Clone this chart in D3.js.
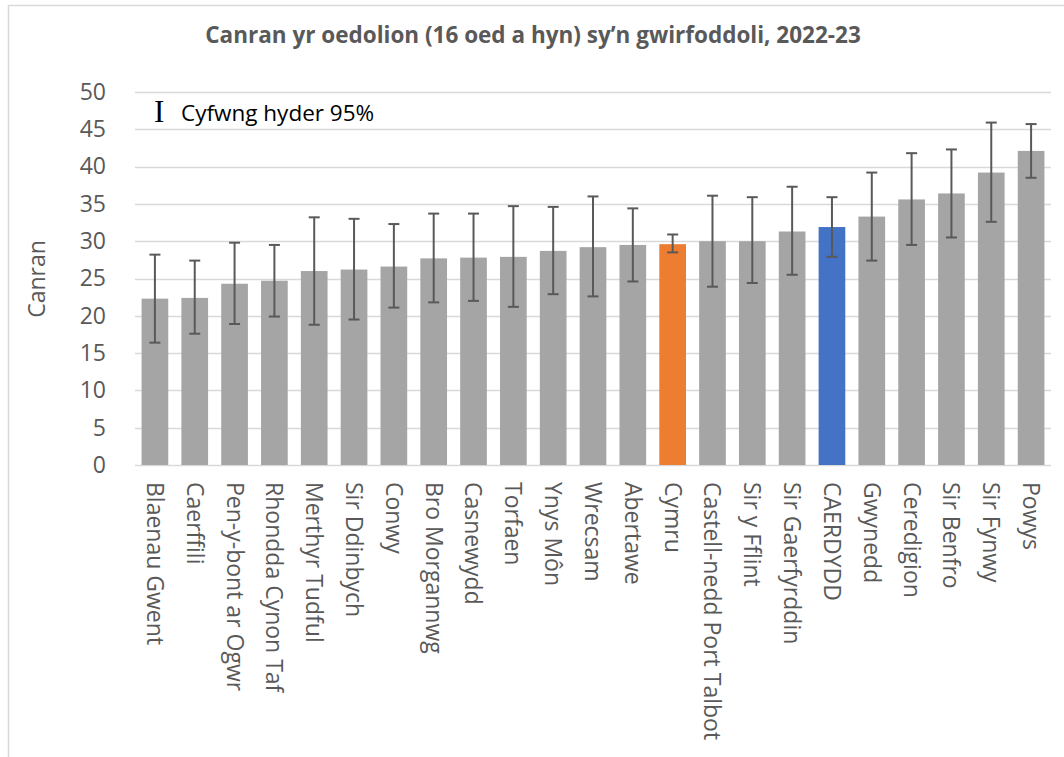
<!DOCTYPE html>
<html><head><meta charset="utf-8">
<script src="https://cdn.jsdelivr.net/npm/d3@7"></script>
<style>body{margin:0;background:#fff}svg{display:block}</style>
</head><body>
<svg id="chart" width="1064" height="757"></svg>
<script>
const categories = ["Blaenau Gwent","Caerffili","Pen-y-bont ar Ogwr","Rhondda Cynon Taf","Merthyr Tudful","Sir Ddinbych","Conwy","Bro Morgannwg","Casnewydd","Torfaen","Ynys Môn","Wrecsam","Abertawe","Cymru","Castell-nedd Port Talbot","Sir y Fflint","Sir Gaerfyrddin","CAERDYDD","Gwynedd","Ceredigion","Sir Benfro","Sir Fynwy","Powys"];
const values = [22.3,22.4,24.3,24.7,26.0,26.2,26.6,27.7,27.8,27.9,28.7,29.2,29.5,29.6,30.0,30.0,31.3,31.9,33.3,35.6,36.4,39.2,42.1];
const lowerCI = [16.4,17.6,18.9,19.9,18.8,19.5,21.1,21.8,22.0,21.2,22.9,22.6,24.6,28.5,23.9,24.4,25.5,27.9,27.4,29.5,30.5,32.6,38.5];
const upperCI = [28.2,27.4,29.8,29.5,33.2,33.0,32.3,33.7,33.7,34.7,34.6,36.0,34.4,30.9,36.1,35.9,37.3,35.9,39.2,41.8,42.3,45.9,45.7];
const yTicks = [0,5,10,15,20,25,30,35,40,45,50];
const titleText = "Canran yr oedolion (16 oed a hyn) sy’n gwirfoddoli, 2022-23";
const yTitle = "Canran";
const legendText = "Cyfwng hyder 95%";

const FONT = "'Open Sans', sans-serif";
const colorFor = c => c === "Cymru" ? "#ED7D31" : (c === "CAERDYDD" ? "#4472C4" : "#A5A5A5");

const svg = d3.select("#chart");
const mLeft = 135, mRight = 1051, mTop = 92, mBottom = 465;

// frame
svg.append("rect").attr("x",8.5).attr("y",5.5).attr("width",1200).attr("height",900)
  .attr("fill","none").attr("stroke","#D9D9D9").attr("stroke-width",1.5);

const x = d3.scaleBand().domain(categories).range([mLeft,mRight]).paddingInner(0.33).paddingOuter(0.165);
const y = d3.scaleLinear().domain([0,50]).range([mBottom,mTop]);

// gridlines
svg.append("g").selectAll("line").data(yTicks).join("line")
  .attr("x1",mLeft).attr("x2",mRight)
  .attr("y1",d=>Math.round(y(d))+0.5).attr("y2",d=>Math.round(y(d))+0.5)
  .attr("stroke","#D9D9D9").attr("stroke-width",1.5);

// bars
svg.append("g").selectAll("rect").data(categories).join("rect")
  .attr("x",d=>x(d)).attr("width",x.bandwidth())
  .attr("y",(d,i)=>y(values[i])).attr("height",(d,i)=>y(0)-y(values[i]))
  .attr("fill",d=>colorFor(d));

// error bars
const eb = svg.append("g").attr("stroke","#595959").attr("stroke-width",2);
categories.forEach((c,i)=>{
  const cx = x(c)+x.bandwidth()/2;
  eb.append("line").attr("x1",cx).attr("x2",cx).attr("y1",y(lowerCI[i])).attr("y2",y(upperCI[i]));
  eb.append("line").attr("x1",cx-5.5).attr("x2",cx+5.5).attr("y1",y(lowerCI[i])).attr("y2",y(lowerCI[i]));
  eb.append("line").attr("x1",cx-5.5).attr("x2",cx+5.5).attr("y1",y(upperCI[i])).attr("y2",y(upperCI[i]));
});

// y axis
const ya = svg.append("g").attr("transform",`translate(${mLeft},0)`)
  .call(d3.axisLeft(y).tickValues(yTicks).tickSize(0).tickPadding(29));
ya.select(".domain").remove();
ya.selectAll("text").attr("font-family",FONT).attr("font-size",23).attr("fill","#595959");

// x axis
const xa = svg.append("g").attr("transform",`translate(0,${mBottom})`)
  .call(d3.axisBottom(x).tickSize(0));
xa.select(".domain").remove();
xa.selectAll("text")
  .attr("font-family",FONT).attr("font-size",23).attr("fill","#595959")
  .attr("text-anchor","start")
  .attr("transform","rotate(90)")
  .attr("x",17).attr("y",0).attr("dy","0.35em");

// title
svg.append("text").attr("x",533).attr("y",43).attr("text-anchor","middle")
  .attr("font-family",FONT).attr("font-size",22.5).attr("font-weight","bold").attr("fill","#595959")
  .text(titleText);

// y title
svg.append("text").attr("transform","translate(45,279) rotate(-90)").attr("text-anchor","middle")
  .attr("font-family",FONT).attr("font-size",23).attr("fill","#595959").text(yTitle);

// legend
svg.append("text").attr("x",154).attr("y",122)
  .attr("font-family","'Liberation Serif', serif").attr("font-size",31).attr("fill","#000").text("I");
svg.append("text").attr("x",181).attr("y",121)
  .attr("font-family",FONT).attr("font-size",22.5).attr("fill","#000").text(legendText);
</script>
</body></html>
